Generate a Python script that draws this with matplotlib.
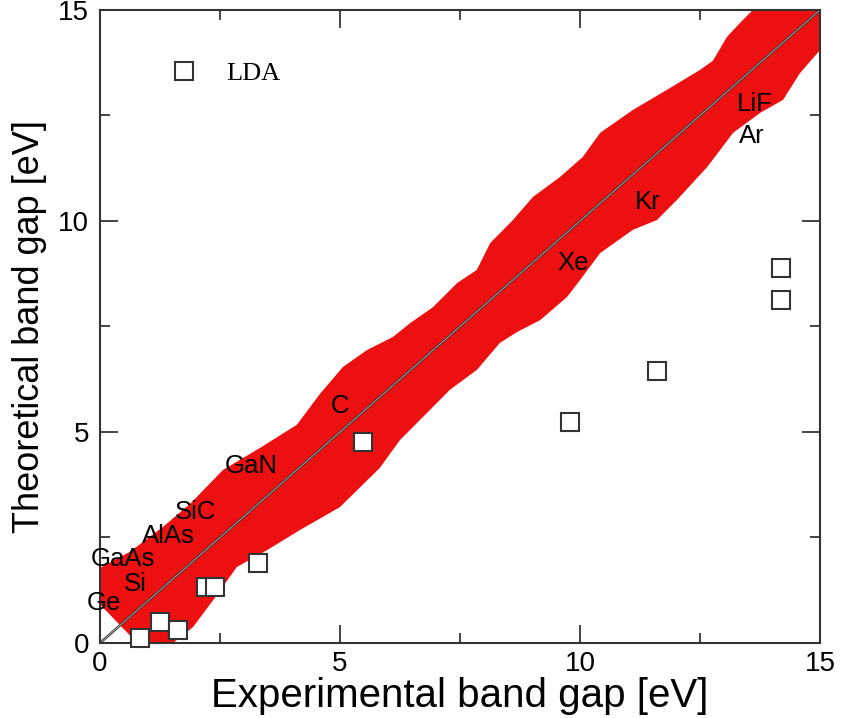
import matplotlib
matplotlib.use("Agg")
import matplotlib.pyplot as plt
import numpy as np

plt.rcParams['font.family'] = ['Liberation Sans', 'DejaVu Sans']

# LDA band gaps (experimental, theoretical) [eV]
exp_gap = [0.83, 1.25, 1.63, 2.21, 2.40, 3.29, 5.48, 9.79, 11.6, 14.19, 14.19]
lda_gap = [0.12, 0.50, 0.31, 1.33, 1.33, 1.89, 4.76, 5.24, 6.45, 8.88, 8.13]

# material names and where they sit along the band
names = ["Ge", "Si", "GaAs", "AlAs", "SiC", "GaN", "C", "Xe", "Kr", "LiF", "Ar"]
name_x = [0.08, 0.73, 0.48, 1.42, 1.98, 3.15, 5.0, 9.86, 11.42, 13.65, 13.58]
name_y = [0.95, 1.40, 1.98, 2.53, 3.10, 4.19, 5.62, 9.0, 10.45, 12.77, 12.01]

# upper and lower edge of the red band
up_x = [-0.5, 0.0, 0.62, 1.31, 1.88, 2.56, 3.33, 4.1, 4.58, 5.06, 5.56, 6.1, 6.46,
        6.94, 7.44, 7.85, 8.13, 8.6, 9.02, 9.58, 10.06, 10.42, 11.1, 11.8, 12.5,
        12.77, 13.06, 13.33, 13.6, 14.2, 15.5]
up_y = [1.5, 1.78, 2.16, 2.75, 3.3, 4.1, 4.62, 5.17, 5.9, 6.54, 6.94, 7.25, 7.58,
        7.96, 8.53, 8.84, 9.48, 10.02, 10.57, 11.04, 11.52, 12.09, 12.63, 13.1, 13.58,
        13.8, 14.36, 14.69, 15.0, 15.6, 16.5]
lo_x = [1.2, 1.52, 1.94, 2.36, 2.85, 3.48, 4.17, 5.0, 5.83, 6.25, 6.81, 7.29, 7.85,
        8.33, 8.69, 9.17, 9.73, 10.0, 10.42, 11.1, 11.6, 12.02, 12.65, 13.19, 13.75,
        14.23, 14.58, 15.0, 15.5]
lo_y = [-0.5, 0.0, 0.38, 1.02, 1.8, 2.2, 2.68, 3.22, 4.15, 4.81, 5.45, 6.0, 6.47,
        7.11, 7.37, 7.65, 8.2, 8.6, 9.24, 9.79, 10.02, 10.5, 11.28, 12.09, 12.56,
        12.87, 13.5, 14.05, 14.6]

diag = [0, 15]

fig = plt.figure(figsize=(8.42, 7.18), dpi=100)
ax = fig.add_axes([0.1188, 0.1045, 0.8551, 0.8816])

band_x = up_x + lo_x[::-1]
band_y = up_y + lo_y[::-1]
ax.fill(band_x, band_y, color="#ed1010", lw=0, zorder=1)

ax.plot(diag, diag, color="#333333", lw=1.8, zorder=2)
ax.plot(diag, diag, color="#c8c8c8", lw=0.5, zorder=2)

ax.plot(exp_gap, lda_gap, ls="none", marker="s", ms=13, mfc="white",
        mec="#333333", mew=1.5, label="LDA", zorder=4, clip_on=False)

for n, x, y in zip(names, name_x, name_y):
    ax.text(x, y, n, fontsize=18.5, ha="center", va="center", zorder=5)

ax.set_xlim(0, 15)
ax.set_ylim(0, 15)
ax.set_xticks([0, 5, 10, 15])
ax.set_yticks([0, 5, 10, 15])
ax.set_xticks([2.5, 7.5, 12.5], minor=True)
ax.set_yticks([2.5, 7.5, 12.5], minor=True)
ax.tick_params(which="both", direction="in", top=True, right=True,
               color="#333333", width=1.3)
ax.tick_params(which="major", length=13, labelsize=20)
ax.tick_params(which="minor", length=7)
ax.tick_params(axis="x", pad=6)
ax.tick_params(axis="y", pad=8)
for s in ax.spines.values():
    s.set_linewidth(1.5)
    s.set_color("#333333")

ax.set_xlabel("Experimental band gap [eV]", fontsize=29, labelpad=0)
ax.set_ylabel("Theoretical band gap [eV]", fontsize=26, labelpad=8)

ax.legend(loc="upper left", bbox_to_anchor=(0.0986, 0.918), frameon=False,
          borderaxespad=0, borderpad=0, handlelength=1.0, handletextpad=1.1,
          prop={"family": "Liberation Serif", "size": 19})

fig.savefig("out.png", dpi=100)
